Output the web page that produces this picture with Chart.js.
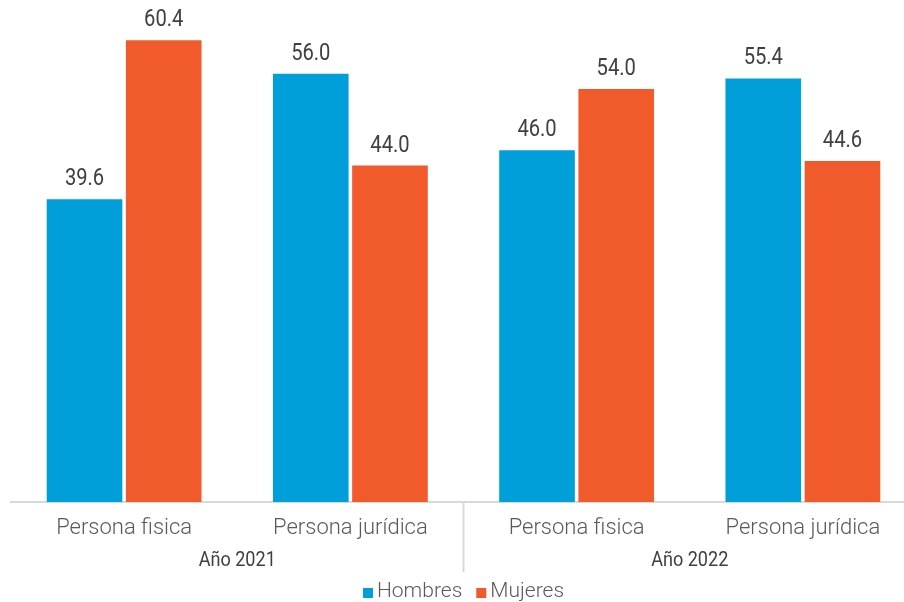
<!DOCTYPE html>
<html>
<head>
<meta charset="utf-8">
<script src="https://cdn.jsdelivr.net/npm/chart.js@4"></script>
<style>
  html, body { margin: 0; padding: 0; background: #fff; overflow: hidden; }
  #wrap { width: 916px; height: 602px; }
</style>
</head>
<body>
<div id="wrap"><canvas id="grafica"></canvas></div>
<script>
const categorias = ['Persona fisica', 'Persona jurídica', 'Persona fisica', 'Persona jurídica'];
const grupos = ['Año 2021', 'Año 2022'];
const hombres = [39.6, 56.0, 46.0, 55.4];
const mujeres = [60.4, 44.0, 54.0, 44.6];
const colores = ['#009fda', '#f15a2b'];

// etiquetas de valor sobre cada barra
const etiquetasValor = {
  id: 'etiquetasValor',
  afterDatasetsDraw(chart) {
    const ctx = chart.ctx;
    ctx.save();
    ctx.fillStyle = '#404040';
    ctx.font = '400 24px Roboto';
    ctx.textAlign = 'center';
    ctx.textBaseline = 'bottom';
    chart.data.datasets.forEach((ds, i) => {
      chart.getDatasetMeta(i).data.forEach((bar, j) => {
        ctx.save();
        ctx.translate(bar.x, bar.y - 8);
        ctx.scale(0.84, 1);
        ctx.fillText(ds.data[j].toFixed(1), 0, 0);
        ctx.restore();
      });
    });
    ctx.restore();
  }
};

// años debajo de las categorías, separador y leyenda
const gruposEje = {
  id: 'gruposEje',
  afterDraw(chart) {
    const ctx = chart.ctx;
    const x = chart.scales.x;
    const area = chart.chartArea;
    const base = area.bottom;
    ctx.save();
    ctx.strokeStyle = '#d9d9d9';
    ctx.lineWidth = 2;
    const sep = (x.getPixelForValue(1) + x.getPixelForValue(2)) / 2;
    ctx.beginPath();
    ctx.moveTo(sep, base);
    ctx.lineTo(sep, base + 70);
    ctx.stroke();

    ctx.fillStyle = '#404040';
    ctx.font = '400 21px Roboto';
    ctx.textAlign = 'center';
    ctx.textBaseline = 'middle';
    grupos.forEach((g, k) => {
      const cx = (x.getPixelForValue(k * 2) + x.getPixelForValue(k * 2 + 1)) / 2;
      ctx.save();
      ctx.translate(cx, base + 59);
      ctx.scale(0.86, 1);
      ctx.fillText(g, 0, 0);
      ctx.restore();
    });

    // leyenda
    ctx.font = '300 21px Roboto';
    ctx.textAlign = 'left';
    const items = chart.data.datasets.map((ds, i) => ({ texto: ds.label, color: colores[i], w: ctx.measureText(ds.label).width }));
    const caja = 10, hueco = 4, entre = 14;
    let total = items.reduce((s, it) => s + caja + hueco + it.w, 0) + entre * (items.length - 1);
    let lx = (area.left + area.right) / 2 - total / 2;
    const ly = base + 90;
    items.forEach(it => {
      ctx.fillStyle = it.color;
      ctx.fillRect(lx, ly - 4, caja, caja);
      ctx.fillStyle = '#595959';
      ctx.fillText(it.texto, lx + caja + hueco, ly);
      lx += caja + hueco + it.w + entre;
    });
    ctx.restore();
  }
};

new Chart(document.getElementById('grafica'), {
  type: 'bar',
  data: {
    labels: categorias,
    datasets: [
      { label: 'Hombres', data: hombres, backgroundColor: colores[0], categoryPercentage: 0.70, barPercentage: 0.955 },
      { label: 'Mujeres', data: mujeres, backgroundColor: colores[1], categoryPercentage: 0.70, barPercentage: 0.955 }
    ]
  },
  options: {
    responsive: true,
    maintainAspectRatio: false,
    animation: false,
    layout: { padding: { left: 11, top: 5, right: 0, bottom: 0 } },
    plugins: {
      legend: { display: false },
      tooltip: { enabled: false }
    },
    scales: {
      x: {
        grid: { display: false, drawTicks: false },
        border: { color: '#d9d9d9', width: 2 },
        ticks: {
          color: '#595959',
          padding: 13,
          font: { family: 'Roboto', size: 22, weight: 300 }
        },
        afterFit: scale => { scale.height = 100; }
      },
      y: {
        display: false,
        min: 0,
        max: 65
      }
    }
  },
  plugins: [etiquetasValor, gruposEje]
});
</script>
</body>
</html>
